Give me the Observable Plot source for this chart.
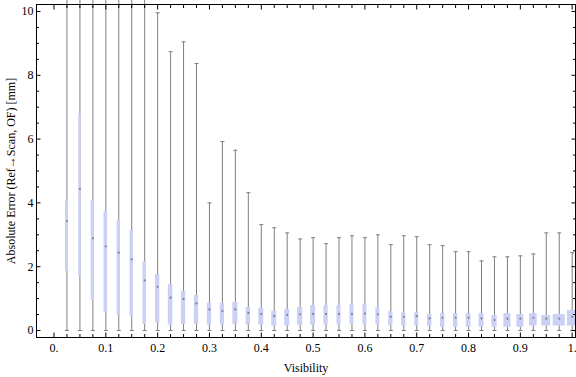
<!DOCTYPE html>
<html>
<head>
<meta charset="utf-8">
<script src="https://cdn.jsdelivr.net/npm/d3@7"></script>
<script src="https://cdn.jsdelivr.net/npm/@observablehq/plot@0.6"></script>
<style>
  html, body { margin: 0; padding: 0; background: #fff; }
  #chart svg { display: block; }
</style>
</head>
<body>
<div id="chart"></div>
<script>
// Visibility bins (box centres)
const visibility = [0.025, 0.05, 0.075, 0.1, 0.125, 0.15, 0.175, 0.2, 0.225, 0.25,
  0.275, 0.3, 0.325, 0.35, 0.375, 0.4, 0.425, 0.45, 0.475, 0.5,
  0.525, 0.55, 0.575, 0.6, 0.625, 0.65, 0.675, 0.7, 0.725, 0.75,
  0.775, 0.8, 0.825, 0.85, 0.875, 0.9, 0.925, 0.95, 0.975, 1.0];
// Whisker extremes [mm]
const minError = [0, 0, 0, 0, 0, 0, 0, 0, 0, 0,
  0, 0, 0, 0, 0, 0, 0, 0, 0, 0,
  0, 0, 0, 0, 0, 0, 0, 0, 0, 0,
  0, 0, 0, 0, 0, 0, 0, 0, 0, 0];
const maxError = [10.5, 10.5, 10.5, 10.5, 10.5, 10.5, 10.5, 9.96, 8.74, 9.05,
  8.37, 4.00, 5.92, 5.65, 4.32, 3.32, 3.22, 3.06, 2.87, 2.91,
  2.72, 2.91, 2.97, 2.91, 3.00, 2.69, 2.97, 2.94, 2.69, 2.66,
  2.47, 2.47, 2.18, 2.31, 2.31, 2.34, 2.40, 3.06, 3.06, 2.44];
// Quartiles and median [mm]
const q1 = [1.86, 1.70, 0.94, 0.57, 0.48, 0.44, 0.19, 0.23, 0.17, 0.19,
  0.19, 0.17, 0.17, 0.20, 0.17, 0.17, 0.14, 0.14, 0.17, 0.17,
  0.17, 0.17, 0.20, 0.17, 0.17, 0.14, 0.14, 0.14, 0.14, 0.10,
  0.10, 0.10, 0.10, 0.10, 0.10, 0.10, 0.14, 0.14, 0.14, 0.14];
const median = [3.43, 4.44, 2.89, 2.64, 2.44, 2.23, 1.57, 1.37, 1.03, 0.99,
  0.85, 0.66, 0.61, 0.66, 0.55, 0.52, 0.45, 0.49, 0.51, 0.52,
  0.52, 0.52, 0.52, 0.53, 0.51, 0.43, 0.43, 0.45, 0.38, 0.40,
  0.40, 0.40, 0.38, 0.33, 0.37, 0.37, 0.40, 0.37, 0.37, 0.43];
const q3 = [4.07, 6.77, 4.07, 3.73, 3.47, 3.13, 2.16, 1.76, 1.44, 1.22,
  1.10, 0.85, 0.85, 0.88, 0.72, 0.69, 0.60, 0.66, 0.72, 0.78,
  0.78, 0.78, 0.82, 0.82, 0.72, 0.60, 0.56, 0.56, 0.50, 0.53,
  0.53, 0.53, 0.53, 0.47, 0.53, 0.50, 0.53, 0.47, 0.50, 0.63];
// Box widths in visibility units (as drawn)
const boxWidth = [0.0058, 0.0048, 0.0064, 0.0068, 0.0064, 0.0064, 0.0064, 0.0083, 0.0087, 0.0083,
  0.0083, 0.0081, 0.0081, 0.0096, 0.0083, 0.0096, 0.0096, 0.0096, 0.0102, 0.0096,
  0.0083, 0.0077, 0.0077, 0.0077, 0.0077, 0.0081, 0.0083, 0.0077, 0.0083, 0.0083,
  0.0083, 0.0091, 0.0096, 0.0102, 0.0135, 0.0135, 0.0149, 0.0174, 0.0232, 0.0183];

const xTicks = [0, 0.1, 0.2, 0.3, 0.4, 0.5, 0.6, 0.7, 0.8, 0.9, 1.0];
const xTickLabels = ["0.", "0.1", "0.2", "0.3", "0.4", "0.5", "0.6", "0.7", "0.8", "0.9", "1."];
const yTicks = [0, 2, 4, 6, 8, 10];
const yTickLabels = ["0", "2", "4", "6", "8", "10"];

const data = visibility.map((v, i) => ({
  v, min: minError[i], max: maxError[i], q1: q1[i], med: median[i], q3: q3[i], w: boxWidth[i]
}));

const xMinor = d3.range(0, 41).map(i => i * 0.025).filter(t => !xTicks.some(m => Math.abs(m - t) < 1e-9));
const yMinor = d3.range(0, 21).map(i => i * 0.5).filter(t => !yTicks.includes(t));

const cap = { draw(ctx) { ctx.moveTo(-2, 0); ctx.lineTo(2, 0); } };
const font = "'Liberation Serif', 'DejaVu Serif', serif";
const whisker = "#7f7f7f";

const chart = Plot.plot({
  width: 576,
  height: 377,
  marginLeft: 36,
  marginRight: 1,
  marginTop: 4,
  marginBottom: 40,
  style: { fontFamily: font, fontSize: "12px", color: "black", background: "white", overflow: "visible" },
  x: { domain: [-0.0338, 1.0064], axis: null },
  y: { domain: [-0.219, 10.219], axis: null },
  marks: [
    Plot.ruleX(data, { x: "v", y1: "min", y2: "max", stroke: whisker, strokeWidth: 1 }),
    Plot.dot(data, { x: "v", y: "max", symbol: cap, stroke: whisker, fill: "none", strokeWidth: 1 }),
    Plot.dot(data, { x: "v", y: "min", symbol: cap, stroke: whisker, fill: "none", strokeWidth: 1 }),
    Plot.rect(data, { x1: d => d.v - d.w / 2, x2: d => d.v + d.w / 2, y1: "q1", y2: "q3", fill: "#cad1f5" }),
    Plot.dot(data, { x: "v", y: "med", r: 1.1, fill: "#80828f", stroke: null }),
    Plot.frame({ stroke: "black", strokeWidth: 1 }),
    // inward ticks: bottom / top
    Plot.axisX(xTicks, { anchor: "bottom", tickSize: 4.5, dy: -4.5, text: null, stroke: "black", label: null }),
    Plot.axisX(xMinor, { anchor: "bottom", tickSize: 3, dy: -3, text: null, stroke: "black", label: null }),
    Plot.axisX(xTicks, { anchor: "top", tickSize: 4.5, dy: 4.5, text: null, stroke: "black", label: null }),
    Plot.axisX(xMinor, { anchor: "top", tickSize: 3, dy: 3, text: null, stroke: "black", label: null }),
    // inward ticks: left / right
    Plot.axisY(yTicks, { anchor: "left", tickSize: 4.5, dx: 4.5, text: null, stroke: "black", label: null }),
    Plot.axisY(yMinor, { anchor: "left", tickSize: 3, dx: 3, text: null, stroke: "black", label: null }),
    Plot.axisY(yTicks, { anchor: "right", tickSize: 4.5, dx: -4.5, text: null, stroke: "black", label: null }),
    Plot.axisY(yMinor, { anchor: "right", tickSize: 3, dx: -3, text: null, stroke: "black", label: null }),
    // labels
    Plot.axisX(xTicks, {
      anchor: "bottom", tickSize: 0, tickPadding: 6, fill: "black",
      tickFormat: (d) => xTickLabels[xTicks.indexOf(d)],
      label: "Visibility", labelAnchor: "center", labelArrow: "none", labelOffset: 34
    }),
    Plot.axisY(yTicks, {
      anchor: "left", tickSize: 0, tickPadding: 3, fill: "black",
      tickFormat: (d) => yTickLabels[yTicks.indexOf(d)],
      label: "Absolute Error (Ref\u2192Scan, OF) [mm]", labelAnchor: "center", labelArrow: "none", labelOffset: 30
    })
  ]
});
document.getElementById("chart").appendChild(chart);
</script>
</body>
</html>
